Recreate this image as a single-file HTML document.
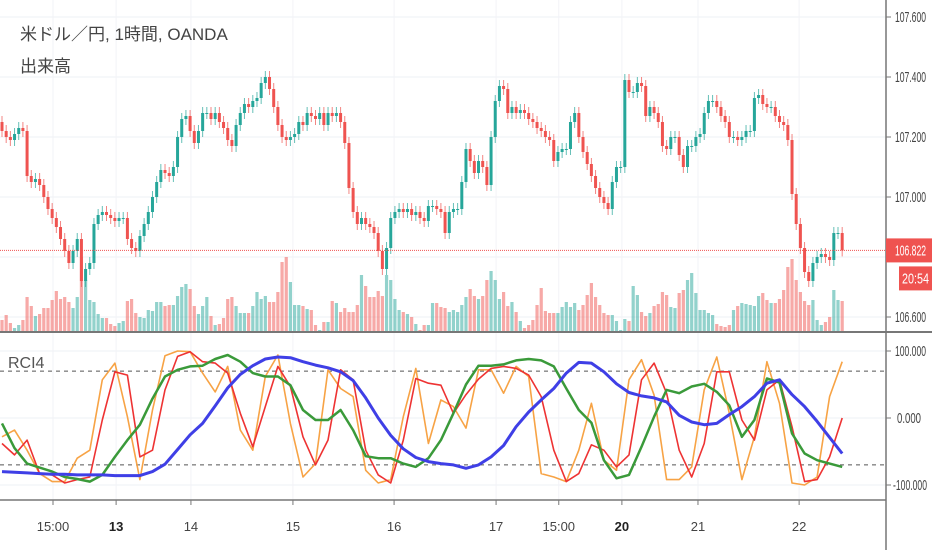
<!DOCTYPE html>
<html><head><meta charset="utf-8">
<style>
html,body{margin:0;padding:0;background:#fff;width:932px;height:550px;overflow:hidden;}
svg{display:block;font-family:"Liberation Sans","Noto Sans CJK JP",sans-serif;}
</style></head>
<body>
<svg id="chart" width="932" height="550" xmlns="http://www.w3.org/2000/svg">
<g id="grid"></g>
<g id="vol"></g>
<g id="candles"></g>
<g id="rci"></g>
<g id="axes"></g>
<text x="20" y="40" font-size="17" fill="#444">米ドル／円, 1時間, OANDA</text>
<text x="20" y="72" font-size="17" fill="#444">出来高</text>
<text x="8" y="368" font-size="16" fill="#555">RCI4</text>
</svg>
<script>
const openFirst = 107.25;
const closes = [107.22,107.20,107.19,107.21,107.23,107.22,107.07,107.05,107.06,107.04,107.00,106.96,106.93,106.90,106.86,106.82,106.78,106.82,106.86,106.72,106.76,106.78,106.91,106.94,106.95,106.94,106.93,106.92,106.93,106.93,106.86,106.83,106.82,106.87,106.91,106.95,107.00,107.05,107.09,107.08,107.07,107.10,107.20,107.26,107.27,107.22,107.18,107.22,107.28,107.28,107.26,107.28,107.25,107.23,107.19,107.17,107.24,107.28,107.31,107.30,107.32,107.33,107.38,107.40,107.36,107.30,107.24,107.20,107.19,107.20,107.21,107.25,107.24,107.28,107.27,107.26,107.28,107.24,107.28,107.27,107.28,107.25,107.18,107.03,106.95,106.91,106.93,106.91,106.90,106.88,106.82,106.76,106.83,106.93,106.95,106.96,106.95,106.96,106.94,106.95,106.93,106.92,106.97,106.97,106.96,106.95,106.88,106.95,106.96,106.96,107.05,107.16,107.12,107.08,107.12,107.10,107.04,107.20,107.32,107.37,107.36,107.28,107.30,107.28,107.29,107.28,107.26,107.25,107.23,107.22,107.20,107.19,107.12,107.15,107.16,107.16,107.25,107.28,107.20,107.15,107.11,107.07,107.03,107.00,106.98,106.96,107.05,107.10,107.10,107.39,107.35,107.35,107.38,107.37,107.27,107.30,107.28,107.25,107.17,107.16,107.20,107.20,107.14,107.10,107.17,107.17,107.20,107.21,107.28,107.32,107.32,107.30,107.27,107.25,107.20,107.20,107.19,107.20,107.22,107.22,107.33,107.34,107.31,107.30,107.30,107.27,107.25,107.24,107.19,107.01,106.91,106.83,106.75,106.72,106.78,106.80,106.81,106.80,106.79,106.88,106.88,106.822];
const volumes = [11,16,8,3,6,11,34,25,15,17,23,23,31,40,32,34,29,23,34,74,51,31,29,17,13,13,7,5,8,10,30,32,18,14,13,21,20,29,29,25,26,26,35,44,47,42,25,17,25,34,15,6,7,13,32,34,25,18,18,18,25,39,32,35,29,29,39,69,74,
49,26,26,25,22,21,6,1,9,9,30,28,19,23,19,19,26,56,45,34,34,40,35,56,51,32,21,19,17,14,7,1,6,6,28,28,24,23,19,21,19,26,34,42,35,32,35,51,60,51,32,39,25,29,19,10,3,6,11,26,43,20,18,18,18,24,29,24,28,
21,26,36,48,34,26,18,16,16,10,1,12,10,45,36,19,15,18,25,27,39,36,24,23,38,41,51,58,38,21,21,18,16,7,5,4,6,21,25,28,27,26,25,35,38,31,28,28,32,41,64,72,51,39,30,26,31,11,6,9,14,41,31,30];
const rciShort = [-28,-18,-48,-83,-95,-95,-60,-48,57,82,2,-92,12,93,100,99,67,39,77,-18,-48,62,94,-8,-88,-68,72,44,32,-78,-97,-92,2,74,-38,27,17,-15,72,72,37,77,62,-83,-88,-95,-48,22,-63,-78,57,87,34,-92,-92,-73,42,91,7,-92,-28,84,22,-97,-100,-88,32,84];
const rciMid = [-38,-55,-33,-83,-85,-97,-92,-88,-3,69,64,-58,-48,42,92,99,84,82,67,7,-43,17,77,47,-28,-70,-33,72,57,-48,-85,-97,-33,59,52,49,7,35,58,74,77,74,64,32,-48,-95,-83,-40,-48,-73,-55,57,82,37,-48,-88,-38,69,69,-3,-33,42,57,-13,-95,-92,-58,0];
const rciLong = [-8,-45,-68,-74,-80,-88,-91,-95,-85,-58,-33,-10,29,62,72,77,78,88,94,84,67,62,62,49,12,-3,-3,12,-18,-57,-60,-60,-68,-73,-60,-33,7,50,78,78,80,86,88,86,77,44,12,-7,-63,-90,-85,-43,2,42,37,47,51,39,19,-28,-3,59,53,-23,-53,-63,-68,-73];
const rciVeryLong = [-80,-81,-82,-83,-84,-84,-85,-85,-85,-86,-86,-86,-80,-69,-47,-25,-8,18,45,65,78,88,91,90,84,79,75,69,56,30,0,-26,-46,-59,-65,-68,-70,-75,-70,-58,-41,-13,9,27,44,67,83,82,69,51,38,33,30,24,4,-6,-10,-8,5,17,32,52,57,35,17,-5,-29,-53];
const priceTicks = [107.6,107.4,107.2,107.0,106.6];
const priceGrid = [107.6,107.4,107.2,107.0,106.8,106.6];
const rciTicks = [100,0,-100];
const rciLevels = [70,-70];
const timeLabels = ["15:00","13","14","15","16","17","15:00","20","21","22"];
const timeIdx = [12.2,27.3,45.2,69.6,93.8,118.2,133.2,148.3,166.5,190.7];
const timeBold = [false,true,false,false,false,false,false,true,false,false];
const lastLabel = "20:54";

const NS="http://www.w3.org/2000/svg";
function mk(tag,attrs,parent){const e=document.createElementNS(NS,tag);for(const k in attrs)e.setAttribute(k,attrs[k]);parent.appendChild(e);return e;}
const xOf = i => 2 + i*4.18;
const yP = p => 17 + (107.6-p)*300;
const yR = v => 418 - v*0.67;
const volBase = 331;
const yV = v => volBase - v;
const grid=document.getElementById('grid'),vol=document.getElementById('vol'),cg=document.getElementById('candles'),rci=document.getElementById('rci'),axes=document.getElementById('axes');

priceGrid.forEach(p=>{const l=mk('line',{x1:0,x2:886,y1:yP(p),y2:yP(p),stroke:'#eef0f5','stroke-width':1},grid);

});
rciTicks.forEach(v=>{const l=mk('line',{x1:0,x2:886,y1:yR(v),y2:yR(v),stroke:'#eef0f5','stroke-width':1},grid);

});
timeIdx.forEach(i=>{const l=mk('line',{x1:xOf(i),x2:xOf(i),y1:0,y2:500,stroke:'#f2f3f7','stroke-width':1},grid);

});

closes.forEach((c,i)=>{
  const o = i===0?openFirst:closes[i-1];
  const up = c>=o;
  const col = up?'#26a69a':'#ef5350';
  const x=xOf(i);
  const hi=Math.max(o,c)+0.02, lo=Math.min(o,c)-0.02;
  const w=mk('line',{x1:x,x2:x,y1:yP(hi),y2:yP(lo),stroke:col,'stroke-width':1,opacity:0.7},cg);
  
  
  const top=yP(Math.max(o,c)), h=Math.max(1,Math.abs(yP(o)-yP(c)));
  const b=mk('rect',{x:x-1.5,y:top,width:3,height:h,fill:col},cg);
  
  
  const v=volumes[i]||0;
  const vb=mk('rect',{x:x-1.6,y:yV(v),width:3.2,height:v,fill:up?'rgba(38,166,154,0.5)':'rgba(239,83,80,0.5)'},vol);
  
  
});
const lp=closes[closes.length-1];
const pl=mk('line',{x1:0,x2:886,y1:yP(lp),y2:yP(lp),stroke:'#ef5350','stroke-width':1,'stroke-dasharray':'1,1'},axes);



rciLevels.forEach(v=>{const l=mk('line',{x1:0,x2:886,y1:yR(v),y2:yR(v),stroke:'#555','stroke-width':1,'stroke-dasharray':'4,4'},rci);

});
function series(arr,col,w,name){
  const pts=arr.map((v,k)=>xOf(k*3).toFixed(1)+','+yR(v).toFixed(1)).join(' ');
  const p=mk('polyline',{points:pts,fill:'none',stroke:col,'stroke-width':w,'stroke-linejoin':'round'},rci);
  
  
}
series(rciShort,'#f7a345',1.6,'rci-short-line');
series(rciMid,'#ee3333',1.6,'rci-mid-line');
series(rciLong,'#3a9a3a',2.5,'rci-long-line');
series(rciVeryLong,'#3f3fe6',3,'rci-verylong-line');

[[0,332,932,332,2,'pane-separator'],[0,500,886,500,1.5,'time-axis-line'],[886,0,886,550,1.5,'price-axis-line']].forEach(a=>{
  const l=mk('line',{x1:a[0],y1:a[1],x2:a[2],y2:a[3],stroke:'#777','stroke-width':a[4]},axes);
  
  
});
priceTicks.forEach(p=>{
  const y=yP(p);
  const t=mk('line',{x1:886,x2:891,y1:y,y2:y,stroke:'#777'},axes);
  
  
  const tx=mk('text',{x:895,y:y+5,'font-size':15,fill:'#444',textLength:31,lengthAdjust:'spacingAndGlyphs'},axes);
  tx.textContent=p.toFixed(3);
  
  
});
rciTicks.forEach(v=>{
  const y=yR(v);
  const t=mk('line',{x1:886,x2:891,y1:y,y2:y,stroke:'#777'},axes);
  
  
  const tx=mk('text',{x:v<0?893:v===0?897:895,y:y+5,'font-size':15,fill:'#444',textLength:v<0?34:v===0?24:31,lengthAdjust:'spacingAndGlyphs'},axes);
  tx.textContent=v.toFixed(3);
  
  
});
timeLabels.forEach((s,k)=>{
  const x=xOf(timeIdx[k]);
  const t=mk('line',{x1:x,x2:x,y1:500,y2:505,stroke:'#777'},axes);
  
  
  const tx=mk('text',{x:x,y:531,'font-size':13,fill:timeBold[k]?'#222':'#444','font-weight':timeBold[k]?'bold':'normal','text-anchor':'middle'},axes);
  tx.textContent=s;
  
  
});
const ly=yP(lp);
const lr=mk('rect',{x:886,y:ly-12,width:46,height:24,fill:'#ef5350'},axes);


const lt=mk('text',{x:895,y:ly+5,'font-size':15,fill:'#fff',textLength:31,lengthAdjust:'spacingAndGlyphs'},axes);
lt.textContent=lp.toFixed(3);


const cr=mk('rect',{x:899,y:ly+16,width:33,height:24,fill:'#ef5350'},axes);


const ct=mk('text',{x:902,y:ly+33,'font-size':15,fill:'#fff',textLength:27,lengthAdjust:'spacingAndGlyphs'},axes);
ct.textContent=lastLabel;


</script>
</body></html>
